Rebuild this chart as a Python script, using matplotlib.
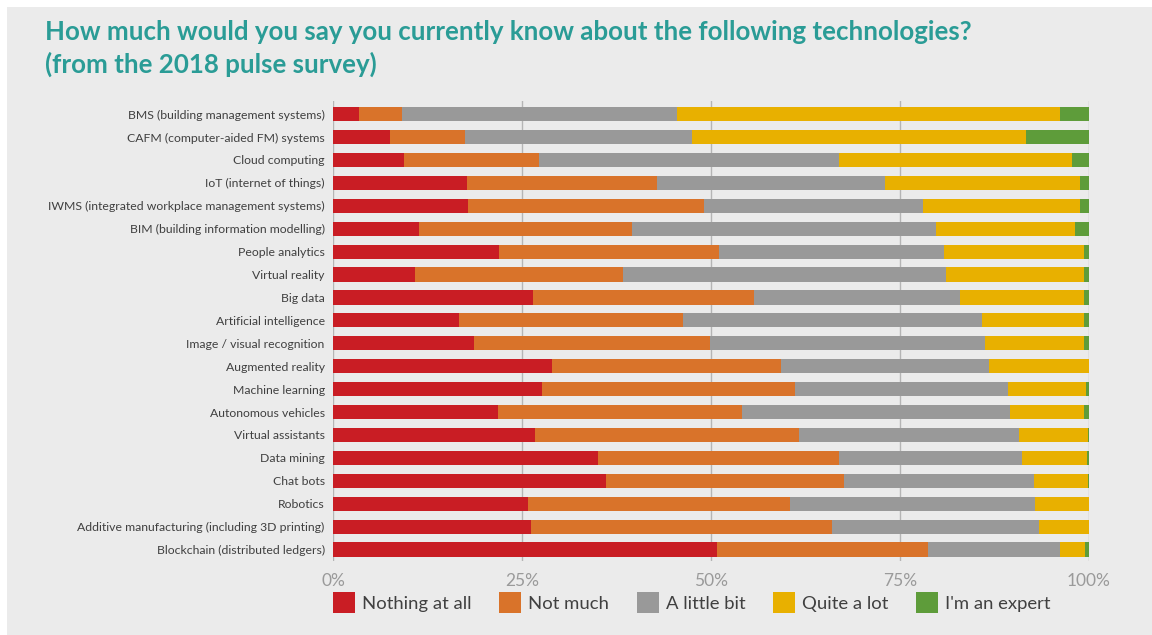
import matplotlib.pyplot as plt
from matplotlib.patches import Rectangle
import numpy as np

# survey categories, top to bottom
technologies = [
    "BMS (building management systems)",
    "CAFM (computer-aided FM) systems",
    "Cloud computing",
    "IoT (internet of things)",
    "IWMS (integrated workplace management systems)",
    "BIM (building information modelling)",
    "People analytics",
    "Virtual reality",
    "Big data",
    "Artificial intelligence",
    "Image / visual recognition",
    "Augmented reality",
    "Machine learning",
    "Autonomous vehicles",
    "Virtual assistants",
    "Data mining",
    "Chat bots",
    "Robotics",
    "Additive manufacturing (including 3D printing)",
    "Blockchain (distributed ledgers)",
]

# share of respondents (%) per answer
nothing_at_all = [3.4, 7.6, 9.4, 17.7, 17.9, 11.4, 21.9, 10.9, 26.4, 16.6,
                  18.7, 29.0, 27.6, 21.8, 26.7, 35.0, 36.1, 25.8, 26.2, 50.8]
not_much = [5.7, 9.9, 17.9, 25.2, 31.2, 28.1, 29.2, 27.4, 29.3, 29.7,
            31.2, 30.3, 33.5, 32.3, 35.0, 31.9, 31.5, 34.6, 39.8, 27.9]
a_little_bit = [36.4, 30.0, 39.6, 30.1, 29.0, 40.3, 29.7, 42.8, 27.2, 39.5,
                36.3, 27.5, 28.2, 35.4, 29.1, 24.2, 25.1, 32.5, 27.4, 17.4]
quite_a_lot = [50.7, 44.2, 30.8, 25.8, 20.7, 18.3, 18.6, 18.3, 16.5, 13.5,
               13.2, 13.2, 10.3, 9.9, 9.1, 8.6, 7.2, 7.1, 6.6, 3.4]
expert = [3.8, 8.3, 2.3, 1.2, 1.2, 1.9, 0.6, 0.6, 0.6, 0.7,
          0.6, 0.0, 0.4, 0.6, 0.1, 0.3, 0.1, 0.0, 0.0, 0.5]

answers = ["Nothing at all", "Not much", "A little bit", "Quite a lot", "I'm an expert"]
colors = ["#c91d24", "#d9732a", "#999999", "#e8b000", "#5e9c3a"]
series = [nothing_at_all, not_much, a_little_bit, quite_a_lot, expert]

plt.rcParams['font.family'] = ['Lato', 'DejaVu Sans']

fig = plt.figure(figsize=(11.52, 6.35), dpi=100)
fig.patch.set_facecolor("white")
# light grey panel behind everything
fig.patches.append(Rectangle((7 / 1152, 0), 1, 1 - 7 / 635, transform=fig.transFigure,
                             facecolor="#ebebeb", edgecolor="none", zorder=-1))

ax = fig.add_axes([0.2891, 0.1172, 0.6562, 0.7237])
ax.set_zorder(2)
ax.set_facecolor("none")

y = np.arange(len(technologies))
left = np.zeros(len(technologies))
for name, vals, col in zip(answers, series, colors):
    vals = np.array(vals)
    ax.barh(y, vals, left=left, height=0.62, color=col, label=name, zorder=3)
    left += vals

ax.set_xlim(0, 100)
ax.set_ylim(19.48, -0.57)
ax.set_yticks(y)
ax.set_yticklabels(technologies, fontsize=8.8, color="#404040")
ax.set_xticks([0, 25, 50, 75, 100])
ax.set_xticklabels(["0%", "25%", "50%", "75%", "100%"], fontsize=12.5, color="#9a9a9a")
ax.tick_params(axis="both", length=0)
ax.tick_params(axis="y", pad=6)
ax.tick_params(axis="x", pad=9)
ax.grid(axis="x", color="#b5b5b5", linewidth=1, zorder=1)
ax.set_axisbelow(True)
for s in ax.spines.values():
    s.set_visible(False)

fig.text(45 / 1152, 1 - 32 / 635, "How much would you say you currently know about the following technologies?",
         fontsize=18.6, fontweight="bold", color="#2a9c96", va="center")
fig.text(45 / 1152, 1 - 64 / 635, "(from the 2018 pulse survey)",
         fontsize=18.6, fontweight="bold", color="#2a9c96", va="center")

fig.legend(loc="upper left", bbox_to_anchor=(333 / 1152, 1 - 592 / 635), ncol=5,
           frameon=False, fontsize=13.3, labelcolor="#404040", borderpad=0, borderaxespad=0,
           handlelength=1.19, handleheight=1.35, handletextpad=0.38, columnspacing=1.5)

fig.savefig("out.png", dpi=100, facecolor=fig.get_facecolor())
